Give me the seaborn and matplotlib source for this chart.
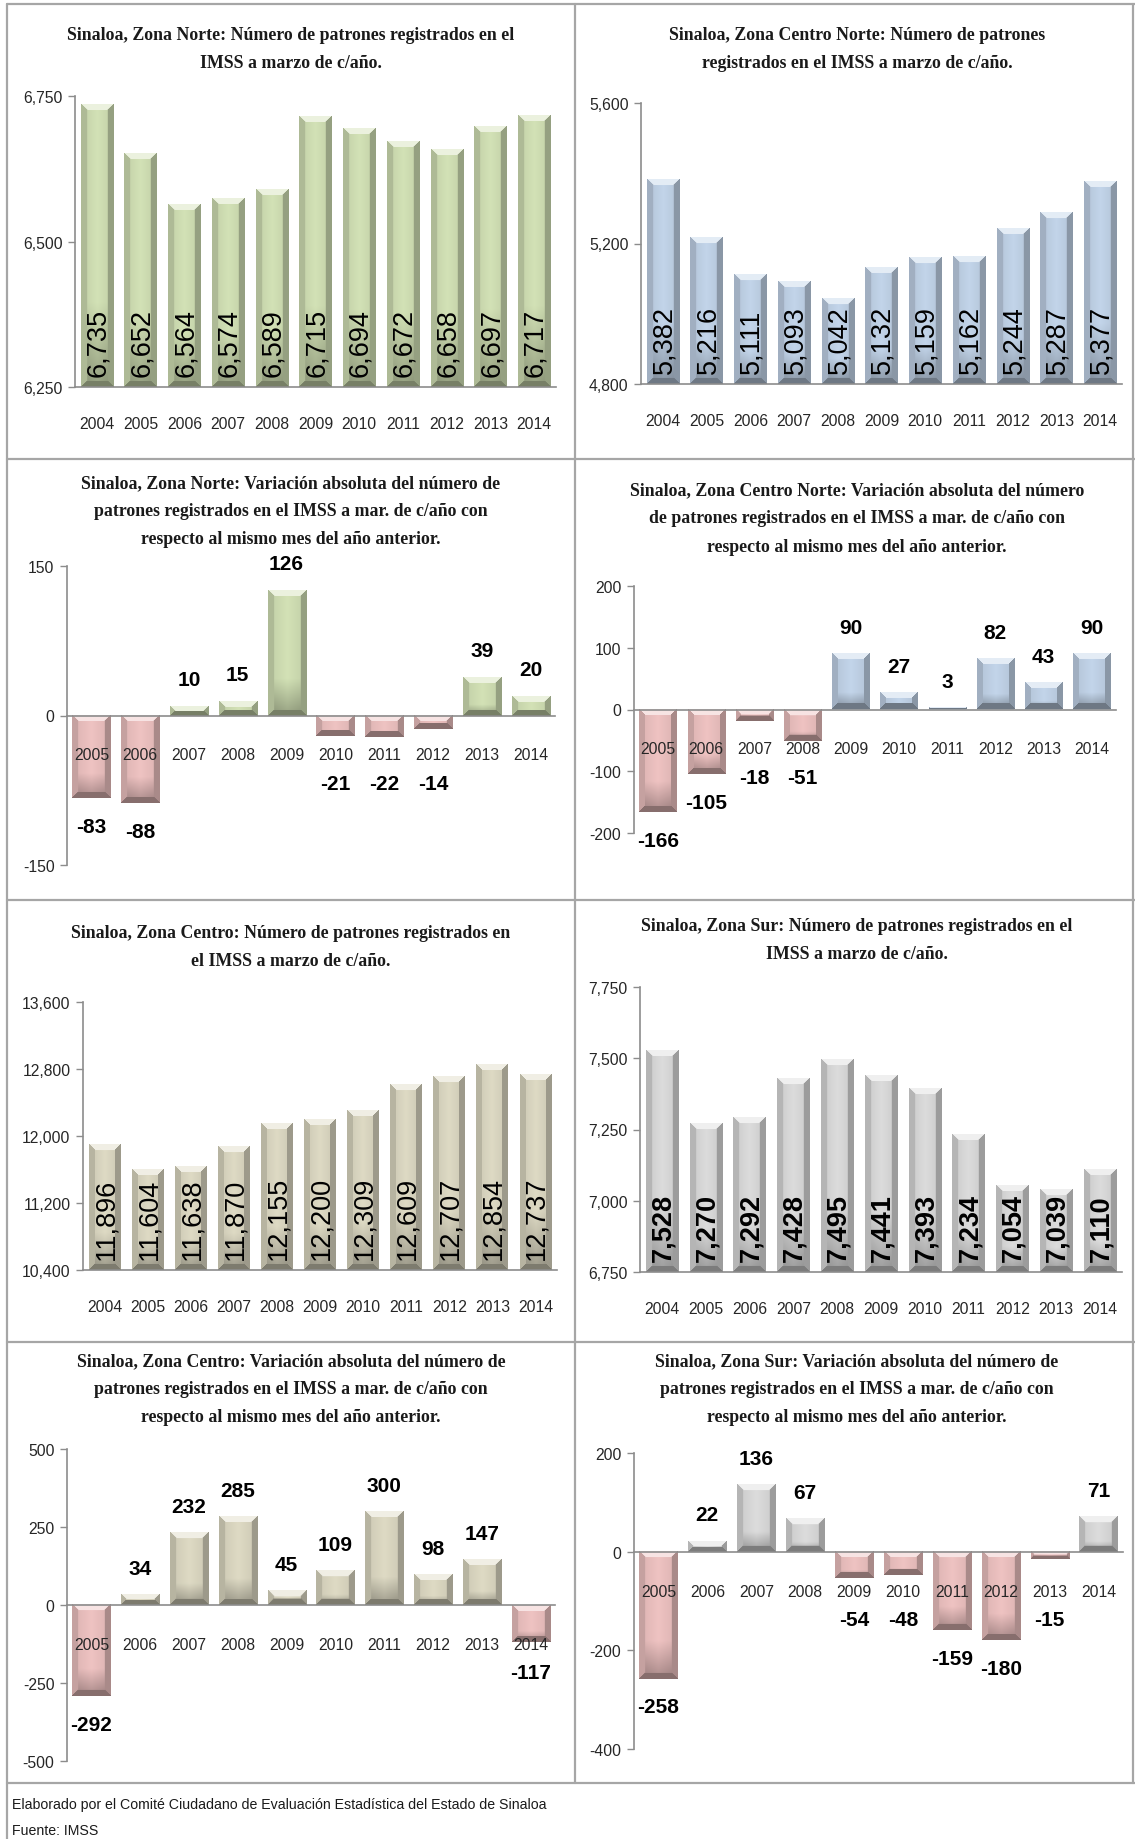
import numpy as np
import pandas as pd
import matplotlib
matplotlib.use("Agg")
import matplotlib.pyplot as plt
import matplotlib.colors as mcolors
from matplotlib.lines import Line2D
from matplotlib import font_manager
import seaborn as sns

sns.set_style("white")

# fuentes disponibles
nombres = {f.name for f in font_manager.fontManager.ttflist}
NARROW = "Liberation Sans Narrow" in nombres
SANS = ["Liberation Sans Narrow", "Liberation Sans", "DejaVu Sans"]
SERIF = ["Liberation Serif", "DejaVu Serif"]
ARIAL = ["Liberation Sans", "DejaVu Sans"]
plt.rcParams["font.family"] = SANS

TICK_FS = 13 if NARROW else 11.3
VAR_FS = 17 if NARROW else 15
FOOT_FS = 12.5 if NARROW else 10.2

# ---- datos ----
anios = ["2004", "2005", "2006", "2007", "2008", "2009", "2010", "2011", "2012", "2013", "2014"]
anios_var = anios[1:]

norte = [6735, 6652, 6564, 6574, 6589, 6715, 6694, 6672, 6658, 6697, 6717]
centro_norte = [5382, 5216, 5111, 5093, 5042, 5132, 5159, 5162, 5244, 5287, 5377]
centro = [11896, 11604, 11638, 11870, 12155, 12200, 12309, 12609, 12707, 12854, 12737]
sur = [7528, 7270, 7292, 7428, 7495, 7441, 7393, 7234, 7054, 7039, 7110]

norte_var = [-83, -88, 10, 15, 126, -21, -22, -14, 39, 20]
centro_norte_var = [-166, -105, -18, -51, 90, 27, 3, 82, 43, 90]
centro_var = [-292, 34, 232, 285, 45, 109, 300, 98, 147, -117]
sur_var = [-258, 22, 136, 67, -54, -48, -159, -180, -15, 71]

VERDE = "#d3e2b6"
AZUL = "#c3d5ea"
KAKI = "#dedac4"
GRIS = "#dcdcdc"
ROSA = "#efc3c2"
EJE = "#8c8c8c"

W, H = 1135, 1840
fig = plt.figure(figsize=(W / 100, H / 100), dpi=100)
PX2PT = 72 / 100


def ejes(x0, y0, x1, y1):
    return fig.add_axes([x0 / W, 1 - y1 / H, (x1 - x0) / W, (y1 - y0) / H])


def bisel(ax, lo, hi):
    # efecto de barra biselada como en Excel
    for p in list(ax.patches):
        x0 = p.get_x()
        x1 = x0 + p.get_width()
        ya, yb = p.get_y(), p.get_y() + p.get_height()
        y0, y1 = max(min(ya, yb), lo), min(max(ya, yb), hi)
        if y1 <= y0:
            continue
        (px0, py0), (px1, py1) = ax.transData.transform([(x0, y0), (x1, y1)])
        wpx = max(int(round(px1 - px0)), 2)
        hpx = max(int(round(py1 - py0)), 2)
        base = np.array(mcolors.to_rgb(p.get_facecolor()))
        osc = base * 0.42
        xx, yy = np.meshgrid(np.arange(wpx) + 0.5, np.arange(hpx) + 0.5)
        b = min(6.0, wpx / 4, hpx / 2)
        dl, dr, dt, db = xx, wpx - xx, yy, hpx - yy
        dmin = np.minimum(np.minimum(dl, dr), np.minimum(dt, db))
        s = 0.5 * np.clip((yy / hpx - 0.7) / 0.3, 0, 1) + 0.15 * np.abs(xx / wpx - 0.5) * 2
        borde = dmin < b
        s = np.where(borde & (dt == dmin), -0.55, s)
        s = np.where(borde & (dl == dmin), 0.3, s)
        s = np.where(borde & (dr == dmin), 0.5, s)
        s = np.where(borde & (db == dmin), 0.75, s)
        s3 = s[..., None]
        img = np.where(s3 >= 0, base * (1 - s3) + osc * s3, base * (1 + s3) - s3)
        ax.imshow(np.clip(img, 0, 1), extent=(x0, x1, y0, y1), origin="upper",
                  aspect="auto", interpolation="bilinear", zorder=1.2)
        p.set_edgecolor("none")


def estilo(ax, n, lo, hi, paso, pad):
    ax.set_axisbelow(False)
    ax.set_xlim(-0.5, n - 0.5)
    ax.set_ylim(lo, hi)
    ax.set_yticks(np.arange(lo, hi + 1, paso))
    ax.yaxis.set_major_formatter(matplotlib.ticker.FuncFormatter(lambda v, _: f"{int(v):,}"))
    ax.set_xticks(np.arange(-0.5, n, 1.0), minor=True)
    ax.tick_params(axis="x", which="major", length=0, pad=pad, labelsize=TICK_FS)
    ax.tick_params(axis="x", which="minor", length=6, width=1, color=EJE, direction="out")
    ax.tick_params(axis="y", length=5, width=1, color=EJE, direction="out", pad=4,
                   labelsize=TICK_FS, left=True)
    for lado in ["top", "right"]:
        ax.spines[lado].set_visible(False)
    for lado in ["left", "bottom"]:
        ax.spines[lado].set_color(EJE)
        ax.spines[lado].set_linewidth(1.2)
    ax.set_xlabel("")
    ax.set_ylabel("")
    ax.set_facecolor("none")


def titulo(cx, y0, lineas):
    for k, t in enumerate(lineas):
        fig.text(cx / W, 1 - (y0 + 28 * k) / H, t, ha="center", va="center",
                 family=SERIF, fontweight="bold", fontsize=12.8, color="#1a1a1a")


def panel_nivel(rect, valores, color, lo, hi, paso, negrita=False):
    ax = ejes(*rect)
    df = pd.DataFrame({"anio": anios, "valor": valores})
    sns.barplot(data=df, x="anio", y="valor", color=color, saturation=1,
                width=0.74, errorbar=None, ax=ax)
    estilo(ax, len(anios), lo, hi, paso, 21)
    bisel(ax, lo, hi)
    estilo(ax, len(anios), lo, hi, paso, 21)
    for i, v in enumerate(valores):
        ax.annotate(f"{v:,}", (i, lo), xytext=(1, 8), textcoords="offset points",
                    rotation=90, ha="center", va="bottom", family=ARIAL,
                    fontsize=19.5, fontweight="bold" if negrita else "normal",
                    color="black", zorder=5)
    return ax


def panel_var(rect, valores, color, lo, hi, paso):
    ax = ejes(*rect)
    df = pd.DataFrame({"anio": anios_var, "valor": valores,
                       "signo": ["neg" if v < 0 else "pos" for v in valores]})
    sns.barplot(data=df, x="anio", y="valor", hue="signo",
                palette={"pos": color, "neg": ROSA}, dodge=False, legend=False,
                saturation=1, width=0.78, errorbar=None, ax=ax)
    estilo(ax, len(anios_var), lo, hi, paso, 23)
    ax.spines["bottom"].set_position(("data", 0))
    bisel(ax, lo, hi)
    estilo(ax, len(anios_var), lo, hi, paso, 23)
    ax.spines["bottom"].set_position(("data", 0))
    y_cero = ax.transData.transform((0, 0))[1]
    for i, v in enumerate(valores):
        largo = abs(ax.transData.transform((0, v))[1] - y_cero)
        if v >= 0:
            off = (largo + 26) * PX2PT
        else:
            # etiquetas negativas por debajo de los años cuando la barra es corta
            off = -max(largo + 28, 68) * PX2PT
        ax.annotate(f"{v}", (i, 0), xytext=(0, off), textcoords="offset points",
                    ha="center", va="center", fontweight="bold", fontsize=VAR_FS,
                    color="black", zorder=5, annotation_clip=False)
    return ax


# ---- fila 1 ----
titulo(291, 36, ["Sinaloa, Zona Norte: Número de patrones registrados en el",
                 "IMSS a marzo de c/año."])
panel_nivel((75, 97, 556, 388), norte, VERDE, 6250, 6750, 250)

titulo(857, 36, ["Sinaloa, Zona Centro Norte: Número de patrones",
                 "registrados en el IMSS a marzo de c/año."])
panel_nivel((641, 104, 1122, 385), centro_norte, AZUL, 4800, 5600, 400)

# ---- fila 2 ----
titulo(291, 484, ["Sinaloa, Zona Norte: Variación absoluta del número de",
                  "patrones registrados en el IMSS a mar. de c/año con",
                  "respecto al mismo mes del año anterior."])
panel_var((67, 567, 555, 866), norte_var, VERDE, -150, 150, 150)

titulo(857, 491, ["Sinaloa, Zona Centro Norte: Variación absoluta del número",
                  "de patrones registrados en el IMSS a mar. de c/año con",
                  "respecto al mismo mes del año anterior."])
panel_var((634, 587, 1116, 834), centro_norte_var, AZUL, -200, 200, 100)

# ---- fila 3 ----
titulo(291, 934, ["Sinaloa, Zona Centro: Número de patrones registrados en",
                  "el IMSS a marzo de c/año."])
panel_nivel((83, 1003, 557, 1271), centro, KAKI, 10400, 13600, 800)

titulo(857, 927, ["Sinaloa, Zona Sur: Número de patrones registrados en el",
                  "IMSS a marzo de c/año."])
panel_nivel((640, 988, 1122, 1273), sur, GRIS, 6750, 7750, 250, negrita=True)

# ---- fila 4 ----
titulo(291, 1362, ["Sinaloa, Zona Centro: Variación absoluta del número de",
                   "patrones registrados en el IMSS a mar. de c/año con",
                   "respecto al mismo mes del año anterior."])
panel_var((67, 1450, 555, 1762), centro_var, KAKI, -500, 500, 250)

titulo(857, 1362, ["Sinaloa, Zona Sur: Variación absoluta del número de",
                   "patrones registrados en el IMSS a mar. de c/año con",
                   "respecto al mismo mes del año anterior."])
panel_var((634, 1454, 1123, 1750), sur_var, GRIS, -400, 200, 200)

# ---- marcos ----
def linea(x0, y0, x1, y1):
    fig.add_artist(Line2D([x0 / W, x1 / W], [1 - y0 / H, 1 - y1 / H],
                          color="#a6a6a6", lw=1.6))

for yy in [5, 460, 901, 1343, 1784]:
    linea(7, yy, 1135, yy)
linea(7, 5, 7, 1840)
linea(575, 5, 575, 1784)
linea(1133, 5, 1133, 1784)

# ---- pie ----
fig.text(12 / W, 1 - 1805 / H, "Elaborado por el Comité Ciudadano de Evaluación Estadística del Estado de Sinaloa",
         ha="left", va="center", fontsize=FOOT_FS, color="#1a1a1a")
fig.text(12 / W, 1 - 1831 / H, "Fuente: IMSS", ha="left", va="center",
         fontsize=FOOT_FS, color="#1a1a1a")

fig.savefig("out.png", dpi=100, facecolor="white")
